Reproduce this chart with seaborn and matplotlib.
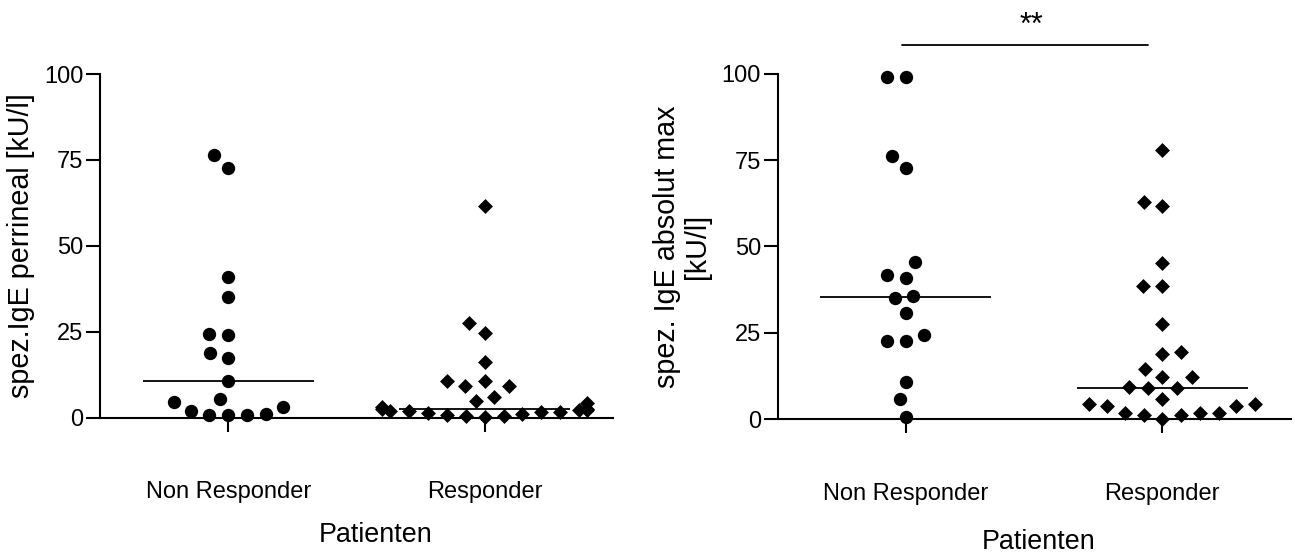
import numpy as np
import pandas as pd
import matplotlib
matplotlib.use("Agg")
import matplotlib.pyplot as plt
import seaborn as sns

groups = ["Non Responder", "Responder"]

# spez. IgE perineal [kU/l]
perineal_non = [76.3, 72.8, 40.9, 35.1, 24.3, 24.1, 18.9, 17.2, 10.7, 5.4,
                4.4, 3.1, 1.9, 1.0, 0.7, 0.7, 0.7]
perineal_resp = [61.7, 27.6, 24.7, 16.1, 10.7, 10.7, 9.2, 9.1, 6.0, 4.8,
                 4.2, 3.0, 2.6, 2.4, 2.3, 2.2, 2.0, 1.8, 1.6, 1.5,
                 1.3, 1.0, 0.8, 0.5, 0.3, 0.2]

# spez. IgE absolut max [kU/l]
absmax_non = [99.2, 99.2, 76.2, 72.7, 45.5, 41.8, 40.9, 35.7, 35.0, 30.8,
              24.3, 22.5, 22.5, 10.8, 5.7, 0.7]
absmax_resp = [78.0, 62.9, 61.7, 45.1, 38.6, 38.6, 27.5, 19.4, 18.8, 14.4,
               12.1, 12.1, 9.2, 9.0, 9.0, 5.7, 4.3, 4.3, 3.8, 3.8,
               1.8, 1.8, 1.8, 1.3, 1.1, 0.1]

yticks = [0, 25, 50, 75, 100]
significance = "**"

sns.set_theme(style="ticks")
plt.rcParams["font.family"] = ["Liberation Sans", "DejaVu Sans"]

fig = plt.figure(figsize=(12.95, 5.53), dpi=100)
ax1 = fig.add_axes([0.0772, 0.245, 0.3961, 0.621])
ax2 = fig.add_axes([0.6005, 0.2423, 0.3961, 0.624])

# swarm is laid out with a wider spacing (like the prism column scatter),
# markers are shrunk afterwards
layout_size = 13
marker_sizes = {"o": 9.6, "D": 7.6}
swarms = []


def panel(ax, non, resp, ylabel):
    df = pd.DataFrame({"Patienten": [groups[0]] * len(non) + [groups[1]] * len(resp),
                       "value": non + resp})
    for g, m in zip(groups, ["o", "D"]):
        n0 = len(ax.collections)
        sns.swarmplot(data=df[df.Patienten == g], x="Patienten", y="value",
                      order=groups, marker=m, size=layout_size, color="black", ax=ax)
        for coll in ax.collections[n0:]:
            swarms.append((coll, m))
    # median lines
    for i, g in enumerate(groups):
        med = df[df.Patienten == g].value.median()
        ax.hlines(med, i - 0.333, i + 0.333, color="black", lw=1.3)

    ax.set_ylim(0, 100)
    ax.set_xlim(-0.5, 1.5)
    ax.set_yticks(yticks)
    sns.despine(ax=ax)
    for s in ["left", "bottom"]:
        ax.spines[s].set_linewidth(1.5)
        ax.spines[s].set_color("black")
    ax.tick_params(axis="both", length=10, width=1.5, color="black",
                   labelsize=17, labelcolor="black")
    ax.tick_params(axis="x", pad=36)
    ax.tick_params(axis="y", pad=2)
    ax.set_ylabel(ylabel, fontsize=20.7, color="black", linespacing=1.1)
    ax.set_xlabel("Patienten", fontsize=19.4, color="black")


panel(ax1, perineal_non, perineal_resp, "spez.IgE perrineal [kU/l]")
panel(ax2, absmax_non, absmax_resp, "spez. IgE absolut max\n[kU/l]")

ax1.yaxis.set_label_coords(-0.127, 0.5)
ax2.yaxis.set_label_coords(-0.13, 0.5)
ax1.xaxis.set_label_coords(0.538, -0.305)
ax2.xaxis.set_label_coords(0.508, -0.318)

# significance bar
ax2.plot([-0.015, 0.945], [108.4, 108.4], color="black", lw=1.3, clip_on=False)
ax2.text(0.49, 114.0, significance, ha="center", va="center", fontsize=22,
         color="black", clip_on=False)

# run the swarm layout once, then freeze positions and shrink the markers
fig.canvas.draw()
for coll, m in swarms:
    coll.__dict__.pop("draw", None)
    coll.set_sizes([marker_sizes[m] ** 2])
    coll.set_clip_on(False)

fig.savefig("out.png", dpi=100)
